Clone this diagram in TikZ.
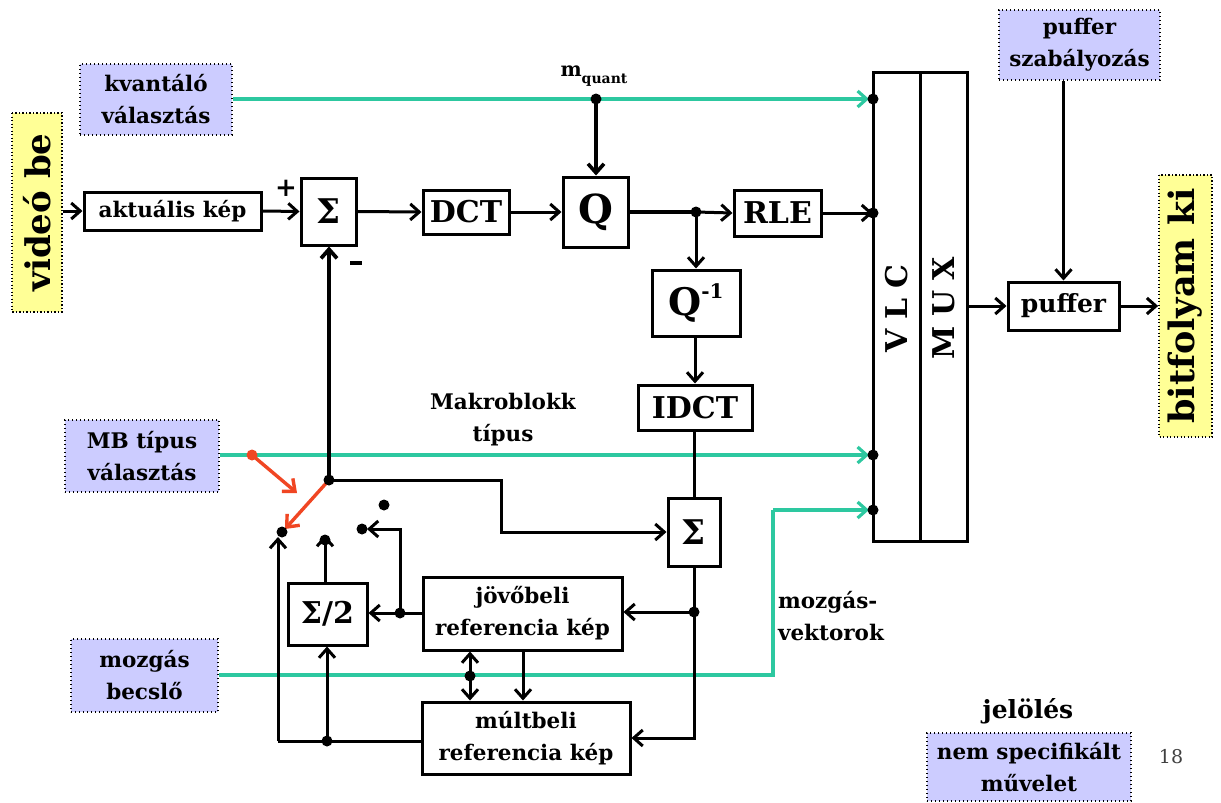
\documentclass[tikz,border=0pt]{standalone}
\usepackage{fontspec}
\setmainfont{DejaVu Serif}
\usetikzlibrary{arrows.meta}
\definecolor{specblue}{RGB}{204,204,255}
\definecolor{ioyellow}{RGB}{255,255,150}
\definecolor{tealc}{RGB}{45,200,160}
\definecolor{redc}{RGB}{240,70,35}
\begin{document}
\begin{tikzpicture}[x=1pt,y=-1pt,
  lblf/.style={font=\fontsize{21.5}{32}\selectfont\bfseries},
  blk/.style={draw, line width=3pt, fill=white, inner sep=0pt, align=center, lblf},
  spec/.style={draw, fill=specblue, line width=2.4pt, dash pattern=on 1.4pt off 2.6pt, inner sep=0pt, align=center, lblf},
  iobox/.style={draw, fill=ioyellow, line width=1.8pt, dash pattern=on 1.3pt off 2.2pt, inner sep=0pt, align=center},
  wire/.style={line width=3pt},
  ar/.style={wire, -{Straight Barb[length=9pt,width=16pt]}},
  tw/.style={line width=3.2pt, tealc, -{Straight Barb[length=9pt,width=16pt]}, shorten >=4pt},
  tl/.style={line width=3.2pt, tealc},
  rw/.style={line width=3.4pt, redc, -{Straight Barb[length=10pt,width=17pt]}},
  dot/.style={circle, fill=black, inner sep=0pt, minimum size=11pt},
  txt/.style={inner sep=0pt, align=center, lblf}
]
\useasboundingbox (0,0) rectangle (1221,803);

% ---------- input / output / unspecified boxes ----------
\node[iobox, rotate=90, minimum width=199pt, minimum height=50pt, font=\fontsize{34}{34}\selectfont\bfseries] (vin) at (37,212.5) {videó be};
\node[iobox, rotate=90, minimum width=262pt, minimum height=53pt, font=\fontsize{35}{35}\selectfont\bfseries] (bit) at (1185.5,306) {bitfolyam ki};
\node[spec, minimum width=152pt, minimum height=71pt] (kv) at (156,99.5) {kvantáló\\választás};
\node[spec, minimum width=161pt, minimum height=70pt] (psz) at (1079.5,45) {puffer\\szabályozás};
\node[spec, minimum width=154pt, minimum height=72pt] (mb) at (142,456) {MB típus\\választás};
\node[spec, minimum width=147pt, minimum height=73pt] (mbe) at (144.5,675.5) {mozgás\\becslő};
\node[spec, minimum width=204pt, minimum height=68pt] (leg) at (1029,767) {nem specifikált\\művelet};

% ---------- processing blocks ----------
\node[blk, minimum width=177pt, minimum height=38pt] (akt) at (172.5,211) {aktuális kép};
\node[blk, minimum width=55pt, minimum height=67pt, font=\fontsize{34}{34}\selectfont\bfseries] (s1) at (328.5,211.5) {Σ};
\node[blk, minimum width=86pt, minimum height=44pt, font=\fontsize{30}{30}\selectfont\bfseries] (dct) at (466,212) {DCT};
\node[blk, minimum width=65pt, minimum height=70pt, font=\fontsize{40}{40}\selectfont\bfseries] (q) at (595.5,212) {Q};
\node[blk, minimum width=87pt, minimum height=46pt, font=\fontsize{30}{30}\selectfont\bfseries] (rle) at (777.5,213) {RLE};
\node[blk, minimum width=88pt, minimum height=66pt, font=\fontsize{38}{38}\selectfont\bfseries] (qi) at (696,303) {Q\raisebox{0.45em}{\fontsize{20}{20}\selectfont -1}};
\node[blk, minimum width=114pt, minimum height=45pt, font=\fontsize{30}{30}\selectfont\bfseries] (idct) at (695,407.5) {IDCT};
\node[blk, minimum width=52pt, minimum height=68pt, font=\fontsize{34}{34}\selectfont\bfseries] (s2) at (694,532) {Σ};
\node[blk, minimum width=199pt, minimum height=73pt] (jov) at (522.5,613.5) {jövőbeli\\referencia kép};
\node[blk, minimum width=208pt, minimum height=72pt] (mult) at (526,738) {múltbeli\\referencia kép};
\node[blk, minimum width=79pt, minimum height=62pt, font=\fontsize{30}{30}\selectfont\bfseries] (sh) at (327.5,614) {Σ/2};
\node[blk, minimum width=47pt, minimum height=469pt] (vlc) at (896.5,306.5) {};
\node[blk, minimum width=47pt, minimum height=469pt] (mux) at (943.5,306.5) {};
\node[rotate=90, inner sep=0pt, font=\fontsize{30}{30}\selectfont\bfseries] at ([yshift=-2pt]vlc.center) {V\hspace{10pt}L\hspace{10pt}C};
\node[rotate=90, inner sep=0pt, font=\fontsize{30}{30}\selectfont\bfseries] at ([yshift=-2pt]mux.center) {M\hspace{10pt}U\hspace{10pt}X};
\node[blk, minimum width=111pt, minimum height=48pt, font=\fontsize{25}{25}\selectfont\bfseries] (puf) at (1063.5,306) {puffer};

% ---------- labels ----------
\node[inner sep=0pt, font=\fontsize{20}{20}\selectfont\bfseries] (mql) at (594,76) {m\raisebox{-0.35em}{\fontsize{14}{14}\selectfont quant}};
\node[txt] (mkl) at (503,420) {Makroblokk\\típus};
\node[txt, align=left] (mvl) at (831,616) {mozgás-\\vektorok};
\node[inner sep=0pt, font=\fontsize{25}{25}\selectfont\bfseries] (jel) at (1028,711) {jelölés};
\node[inner sep=0pt, font=\fontsize{19}{19}\selectfont, text=black!75] (pg) at (1171,757) {18};
\node[inner sep=0pt, font=\fontsize{26}{26}\selectfont\bfseries] (plus) at (286,188) {+};
\coordinate (mn) at (356,263);
\draw[line width=4pt] ([xshift=-6pt]mn) -- ([xshift=6pt]mn);

% ---------- coordinates / dots ----------
\coordinate (d1) at (873,99);
\coordinate (d2) at (873,213);
\coordinate (d3) at (873,455);
\coordinate (d4) at (873,510);
\coordinate (mq) at (596,99);
\coordinate (j1) at (696,212);
\coordinate (j2) at (694,612);
\coordinate (jm) at (329,480);
\coordinate (j3) at (400,613);
\coordinate (j4) at (327,741);
\coordinate (j5) at (470,676);
\coordinate (rd) at (252,455);
\coordinate (sw1) at (282,532);
\coordinate (sw2) at (325,540);
\coordinate (sw3) at (384,505);
\coordinate (sw4) at (362,529);
\coordinate (mvc) at (773,675);
\coordinate (mvt) at (773,510);
\coordinate (bend) at (501,480);

% ---------- teal control lines ----------
\draw[tw] (kv.east |- d1) -- (d1);
\draw[tw] (mb.east |- d3) -- (d3);
\draw[tl] (mbe.east |- mvc) -- (mvc) -- (mvt);
\draw[tw] (mvt) -- (d4);

% ---------- forward path ----------
\draw[ar] (akt.west -| vin.south) -- (akt.west);
\draw[ar] (akt.east) -- (s1.west);
\draw[ar] (s1.east) -- (dct.west);
\draw[ar] (dct.east) -- (q.west);
\draw[wire, line width=3.6pt] (q.east) -- (j1);
\draw[ar] (j1) -- (rle.west);
\draw[ar] (rle.east) -- (d2);
\draw[ar, line width=3.6pt] (mq) -- (q.north -| mq);
\draw[ar] (j1) -- (qi.north -| j1);
\draw[ar] (qi.south -| idct.north) -- (idct.north);
\draw[wire] (idct.south -| s2.north) -- (s2.north);
\draw[wire] (s2.south) -- (j2);
\draw[ar] (j2) -- (jov.east |- j2);
\draw[ar] (j2) -- (mult.east -| j2) -- (mult.east);

% ---------- prediction / feedback ----------
\draw[ar, line width=3.8pt] (jm) -- (s1.south -| jm);
\draw[ar] (jm) -- (bend) -- (bend |- s2.west) -- (s2.west);
\draw[wire] (jov.west |- j3) -- (j3);
\draw[ar] (j3) -- (sh.east |- j3);
\draw[ar] (j3) -- (j3 |- sw4) -- ([xshift=5pt]sw4);
\draw[ar] (sh.north -| sw2) -- ([yshift=5pt]sw2);
\draw[wire] (mult.west |- j4) -- (j4) -- (278,741);
\draw[ar] (278,741) -- (278,537);
\draw[ar] (j4) -- (sh.south -| j4);
\draw[ar] (j5) -- (jov.south -| j5);
\draw[ar] (j5) -- (mult.north -| j5);
\draw[ar] (jov.south -| 523,0) -- (mult.north -| 523,0);

% ---------- output ----------
\draw[ar] (psz.south -| puf.north) -- (puf.north);
\draw[ar] (mux.east |- puf.west) -- (puf.west);
\draw[ar] (puf.east) -- (bit.north |- puf.east);

% ---------- switch (red) ----------
\draw[rw] (rd) -- (297,493);
\draw[rw] (jm) -- (285,529);

% ---------- dots ----------
\foreach \p in {d1,d2,d3,d4,mq,j1,j2,jm,j3,j4,j5,sw1,sw2,sw3,sw4}
  \node[dot] at (\p) {};
\node[dot, fill=redc] at (rd) {};
\end{tikzpicture}
\end{document}
